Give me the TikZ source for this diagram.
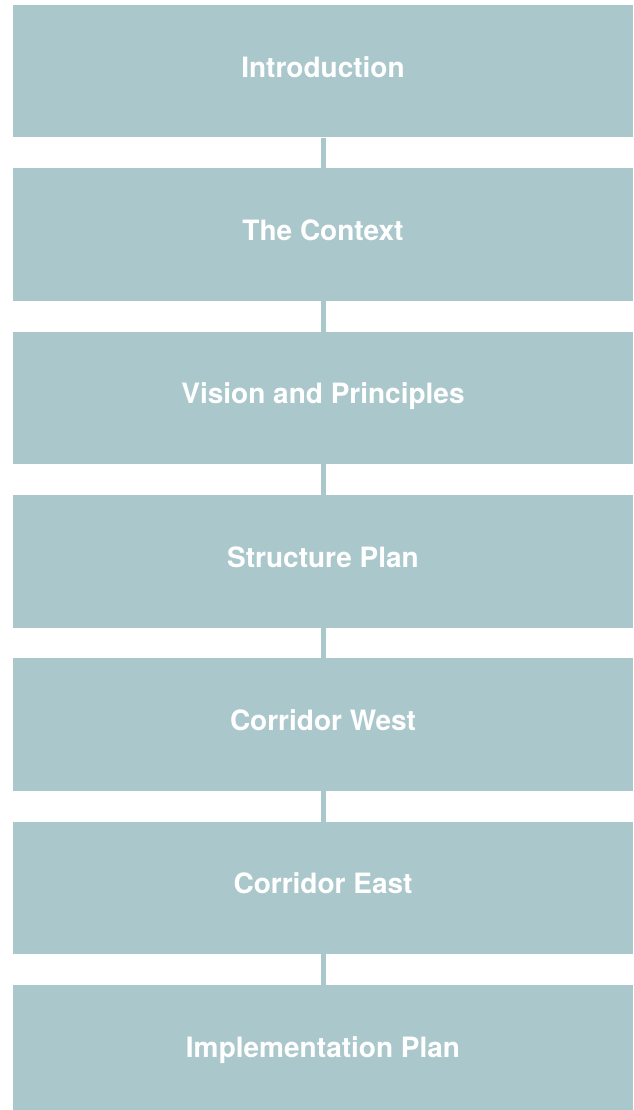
\documentclass[tikz,border=0pt]{standalone}
\usepackage{fontspec}
\setmainfont{TeX Gyre Heros}
\definecolor{boxteal}{RGB}{170,200,204}
\begin{document}
\begin{tikzpicture}[x=1pt,y=-1pt,
  stagebox/.style={fill=boxteal,draw=none,minimum width=620pt,minimum height=132.5pt,
    inner sep=0pt,text height=20pt,text depth=8pt,text=white,
    font=\fontsize{28}{32}\selectfont\bfseries},
  link/.style={draw=boxteal,line width=5pt}]
\path[use as bounding box,clip] (0,0) rectangle (633,1110);
\node[stagebox] (n1) at (323,71.25) {Introduction};
\node[stagebox] (n2) at (323,234.55) {The Context};
\node[stagebox] (n3) at (323,397.95) {Vision and Principles};
\node[stagebox] (n4) at (323,561.25) {Structure Plan};
\node[stagebox] (n5) at (323,724.55) {Corridor West};
\node[stagebox] (n6) at (323,887.95) {Corridor East};
\node[stagebox] (n7) at (323,1051.25) {Implementation Plan};
\foreach \a/\b in {n1/n2,n2/n3,n3/n4,n4/n5,n5/n6,n6/n7}
  \draw[link] (\a.south) -- (\b.north);
\end{tikzpicture}
\end{document}
